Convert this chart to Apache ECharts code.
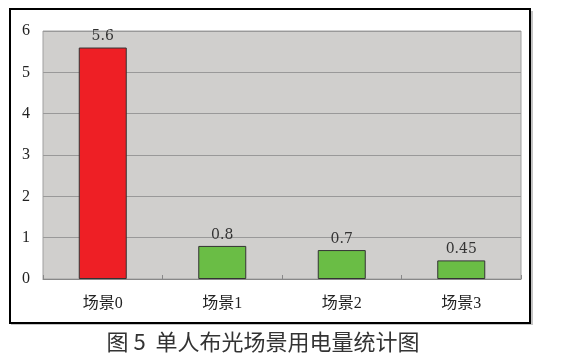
<!DOCTYPE html>
<html><head><meta charset="utf-8">
<script src="https://cdn.jsdelivr.net/npm/echarts@6/dist/echarts.min.js"></script>
<style>html,body{margin:0;padding:0;background:#fff}#c{width:562px;height:357px}</style>
</head><body><div id="c"></div>
<script>
var categories = ['场景0', '场景1', '场景2', '场景3'];
var values = [5.6, 0.8, 0.7, 0.45];
var barColors = ['#ee1f25', '#6abd45', '#6abd45', '#6abd45'];
var yTicks = [0, 1, 2, 3, 4, 5, 6];
var title = '图 5  单人布光场景用电量统计图';

var chart = echarts.init(document.getElementById('c'), null, {renderer: 'canvas'});
var serif = '"Liberation Serif", "Noto Sans CJK SC", serif';
chart.setOption({
  animation: false,
  graphic: [
    {type: 'rect', shape: {x: 11, y: 11, width: 522, height: 314}, style: {fill: '#c4c4c4'}, z: -10},
    {type: 'rect', shape: {x: 10, y: 9, width: 520, height: 314}, style: {fill: '#fff', stroke: '#000', lineWidth: 2}, z: -9},
    {type: 'rect', shape: {x: 43, y: 31, width: 478, height: 248}, style: {fill: '#d0cfcd', stroke: '#a0a0a0', lineWidth: 1}, z: -8},
    {type: 'text', x: 263, y: 342, style: {text: title, fill: '#333', font: '22px "Noto Sans CJK SC", serif', align: 'center', verticalAlign: 'middle'}, z: 10}
  ],
  grid: {left: 43, top: 31, width: 478, height: 248, containLabel: false},
  xAxis: {
    type: 'category', data: categories,
    axisLine: {show: true, lineStyle: {color: '#888', width: 1}},
    axisTick: {show: true, inside: true, length: 4, lineStyle: {color: '#888'}},
    axisLabel: {color: '#222', fontSize: 16, margin: 17, fontFamily: serif}
  },
  yAxis: {
    type: 'value', min: 0, max: 6, interval: 1,
    axisLine: {show: false}, axisTick: {show: false},
    axisLabel: {color: '#222', fontSize: 16, margin: 13, fontFamily: serif,
      formatter: function (v) { return yTicks.indexOf(v) >= 0 ? String(v) : ''; }},
    splitLine: {show: true, lineStyle: {color: '#999', width: 1}}
  },
  series: [{
    type: 'bar', barWidth: 48,
    data: values.map(function (v, i) { return {value: v, itemStyle: {color: barColors[i]}}; }),
    itemStyle: {borderColor: '#333', borderWidth: 1},
    label: {show: true, position: 'top', distance: 4, color: '#333', fontSize: 14,
      fontFamily: '"DejaVu Serif", serif',
      formatter: function (p) { return String(p.value); }}
  }]
});
</script></body></html>
